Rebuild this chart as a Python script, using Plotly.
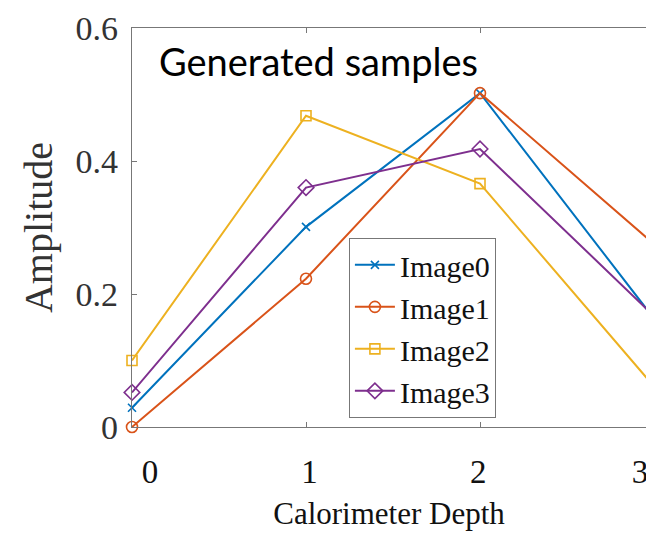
import plotly.graph_objects as go

depth = [0, 1, 2, 3]
image0 = [0.029, 0.301, 0.502, 0.163]
image1 = [0.0, 0.223, 0.502, 0.275]
image2 = [0.100, 0.468, 0.366, 0.061]
image3 = [0.052, 0.360, 0.418, 0.167]

names = ["Image0", "Image1", "Image2", "Image3"]
colors = ["#0072BD", "#D95319", "#EDB120", "#7E2F8E"]
symbols = ["x-thin-open", "circle-open", "square-open", "diamond-open"]
msizes = [8, 11, 10, 12]

x_tick_vals = [1, 2]
x_label_pos = [0.103, 1.02, 1.99, 2.92]
x_label_text = ["0", "1", "2", "3"]
y_tick_vals = [0, 0.2, 0.4, 0.6]
y_tick_text = ["0", "0.2", "0.4", "0.6"]

SERIF = "Liberation Serif, Times New Roman, serif"

fig = go.Figure()
for name, ys, c, s, ms in zip(names, [image0, image1, image2, image3], colors, symbols, msizes):
    fig.add_trace(go.Scatter(
        x=depth, y=ys, name=name, mode="lines+markers",
        line=dict(color=c, width=2),
        marker=dict(symbol=s, size=ms, color=c, line=dict(color=c, width=1.6)),
        cliponaxis=False,
    ))

# invisible trace to activate the label axis
fig.add_trace(go.Scatter(x=[None], y=[None], xaxis="x2", showlegend=False, hoverinfo="skip"))

xr = [0, 2.954]
axis_color = "#777777"
fig.update_layout(
    template="none",
    width=646, height=533,
    margin=dict(l=132, r=0, t=28, b=106),
    paper_bgcolor="white", plot_bgcolor="white",
    font=dict(family=SERIF, size=30, color="#111111"),
    showlegend=True,
    xaxis=dict(
        range=xr, tickvals=x_tick_vals, showticklabels=False,
        ticks="inside", ticklen=5, tickcolor=axis_color,
        showline=True, linecolor=axis_color, linewidth=1.3, mirror="ticks",
        showgrid=False, zeroline=False,
        title=dict(text="Calorimeter Depth",
                   font=dict(family=SERIF, size=31, color="#111111"),
                   standoff=75),
    ),
    xaxis2=dict(
        range=xr, overlaying="x", side="bottom", anchor="y",
        tickmode="array", tickvals=x_label_pos, ticktext=x_label_text,
        ticks="", showline=False, showgrid=False, zeroline=False,
        tickfont=dict(family=SERIF, size=33, color="#111111"),
        ticklabelstandoff=22, ticklabeloverflow="allow",
    ),
    yaxis=dict(
        range=[0, 0.6], tickvals=y_tick_vals, ticktext=y_tick_text,
        ticks="inside", ticklen=5, tickcolor=axis_color,
        showline=True, linecolor=axis_color, linewidth=1.3, mirror=False,
        showgrid=False, zeroline=False,
        tickfont=dict(family=SERIF, size=34, color="#333333"),
        ticklabelstandoff=6,
        title=dict(text="Amplitude",
                   font=dict(family=SERIF, size=40, color="#333333"),
                   standoff=10),
    ),
    legend=dict(
        x=0.422, y=0.474, xanchor="left", yanchor="top",
        bgcolor="white", bordercolor=axis_color, borderwidth=1,
        font=dict(family=SERIF, size=30, color="#111111"),
        itemwidth=40, tracegroupgap=0,
    ),
    annotations=[dict(
        text="Generated samples", xref="paper", yref="paper",
        x=(157 - 132) / 514, y=(427 - 61) / 399, xanchor="left", yanchor="middle",
        showarrow=False,
        font=dict(family="Lato", size=38, color="#000000"),
    )],
)

fig.write_html("out.html")
